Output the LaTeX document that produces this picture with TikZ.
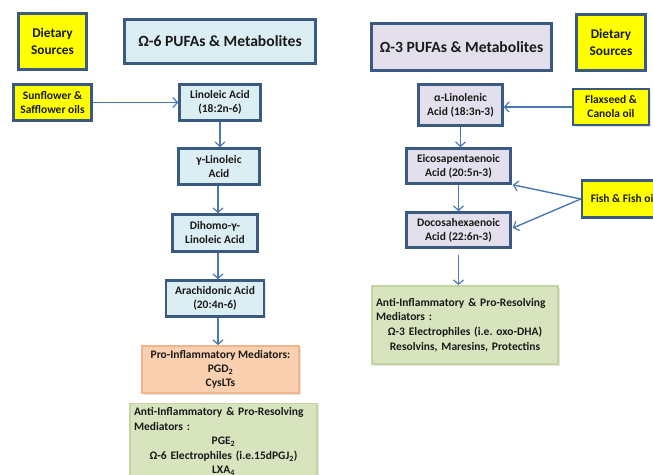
\documentclass[tikz,border=0pt]{standalone}
\usepackage{fontspec}
\setmainfont{Carlito}[BoldFont={Carlito Bold}]
\usetikzlibrary{arrows.meta,shadows}
\definecolor{bord}{HTML}{3A5A82}
\definecolor{arrc}{HTML}{4A78B0}
\definecolor{yel}{HTML}{FFFF00}
\definecolor{lblue}{HTML}{DBEEF4}
\definecolor{lav}{HTML}{E4DFEC}
\definecolor{orf}{HTML}{FBD0B0}
\definecolor{ord}{HTML}{F2B48A}
\definecolor{grf}{HTML}{D7E4BD}
\definecolor{grd}{HTML}{C4D3A0}
\definecolor{txt}{HTML}{1A1A1A}
\begin{document}
\frenchspacing
\begin{tikzpicture}[x=1pt,y=-1pt,
  base/.style={draw=bord, line width=2.6pt, text=txt, align=center, inner sep=0pt,
    font=\bfseries\fontsize{11.5}{14}\selectfont,
    drop shadow={opacity=0.22, shadow xshift=1.5pt, shadow yshift=-1.5pt}},
  srcbox/.style={base, fill=yel},
  o6box/.style={base, fill=lblue},
  o3box/.style={base, fill=lav},
  titlebox/.style={font=\bfseries\fontsize{15.6}{18}\selectfont},
  dietbox/.style={srcbox, font=\bfseries\fontsize{13.3}{16.8}\selectfont},
  probox/.style={base, draw=ord, fill=orf, line width=1.8pt},
  antibox/.style={base, draw=grd, fill=grf, line width=1.8pt, inner xsep=4pt, inner ysep=4pt,
    font=\bfseries\fontsize{11.5}{14.6}\selectfont},
  flow/.style={draw=arrc, line width=1.4pt, -{Straight Barb[length=4.5pt,width=10pt,line width=1.2pt]}}
]
\useasboundingbox (0,0) rectangle (653,474);

% left column
\node[dietbox, minimum width=68pt, minimum height=56pt] (dsL) at (52.5,41.5) {Dietary\\Sources};
\node[o6box, titlebox, minimum width=191pt, minimum height=44pt] (t6) at (220,41.5) {Ω-6 PUFAs \& Metabolites};
\node[srcbox, minimum width=78pt, minimum height=36pt] (sun) at (52.5,102.5) {Sunflower \&\\Safflower oils};
\node[o6box, minimum width=81pt, minimum height=36pt] (la) at (220,102.5) {Linoleic Acid\\(18:2n-6)};
\node[o6box, minimum width=81pt, minimum height=36pt] (gla) at (219,166.5) {γ-Linoleic\\Acid};
\node[o6box, minimum width=85pt, minimum height=37pt] (dgla) at (215,233) {Dihomo-γ-\\Linoleic Acid};
\node[o6box, minimum width=98pt, minimum height=36pt] (aa) at (215,298.5) {Arachidonic Acid\\(20:4n-6)};
\node[probox, minimum width=157pt, minimum height=47pt] (pro) at (220.5,369.5) {Pro-Inflammatory Mediators:\\PGD\textsubscript{2}\\CysLTs};
\node[antibox, anchor=north, text width=179pt] (antiL) at (223.5,402.5)
  {{\raggedright Anti-Inflammatory \& Pro-Resolving\\Mediators :\par}\centering PGE\textsubscript{2}\\Ω-6 Electrophiles (i.e.15dPGJ\textsubscript{2})\\LXA\textsubscript{4}\par};

% right column
\node[o3box, titlebox, minimum width=180pt, minimum height=47pt] (t3) at (461.5,47) {Ω-3 PUFAs \& Metabolites};
\node[dietbox, minimum width=69pt, minimum height=56pt] (dsR) at (611,42.5) {Dietary\\Sources};
\node[o3box, minimum width=84pt, minimum height=41pt] (aln) at (460.5,105) {α-Linolenic\\Acid (18:3n-3)};
\node[srcbox, minimum width=76pt, minimum height=36pt] (flax) at (611,107) {Flaxseed \&\\Canola oil};
\node[o3box, minimum width=104pt, minimum height=35pt] (epa) at (458.5,166) {Eicosapentaenoic\\Acid (20:5n-3)};
\node[o3box, minimum width=104pt, minimum height=35pt] (dha) at (458.5,230) {Docosahexaenoic\\Acid (22:6n-3)};
\node[srcbox, minimum width=83pt, minimum height=37pt] (fish) at (623.5,199) {Fish \& Fish oil};
\node[antibox, minimum width=186pt, minimum height=78pt, text width=178pt] (antiR) at (465,325)
  {{\raggedright Anti-Inflammatory \& Pro-Resolving\\Mediators :\par}\centering Ω-3 Electrophiles (i.e. oxo-DHA)\\Resolvins, Maresins, Protectins\par};

% connectors
\draw[flow] (sun) -- (la);
\draw[flow] (la.south) -- (la.south |- gla.north);
\draw[flow] ([xshift=-1pt]gla.south) -- ([xshift=-1pt]gla.south |- dgla.north);
\draw[flow] ([xshift=3pt]dgla.south) -- ([xshift=3pt]dgla.south |- aa.north);
\draw[flow] ([xshift=3pt]aa.south) -- ([xshift=3pt]aa.south |- pro.north);
\draw[flow] (flax.west) -- (flax.west -| aln.east);
\draw[flow] (aln.south) -- (aln.south |- epa.north);
\draw[flow] (epa.south) -- (dha.north);
\draw[flow] (fish.west) -- ([xshift=1pt]epa.south east);
\draw[flow] (fish.west) -- ([xshift=1pt,yshift=2pt]dha.east);
\draw[flow, shorten <=6pt] (dha.south) -- (dha.south |- antiR.north);
\end{tikzpicture}
\end{document}
